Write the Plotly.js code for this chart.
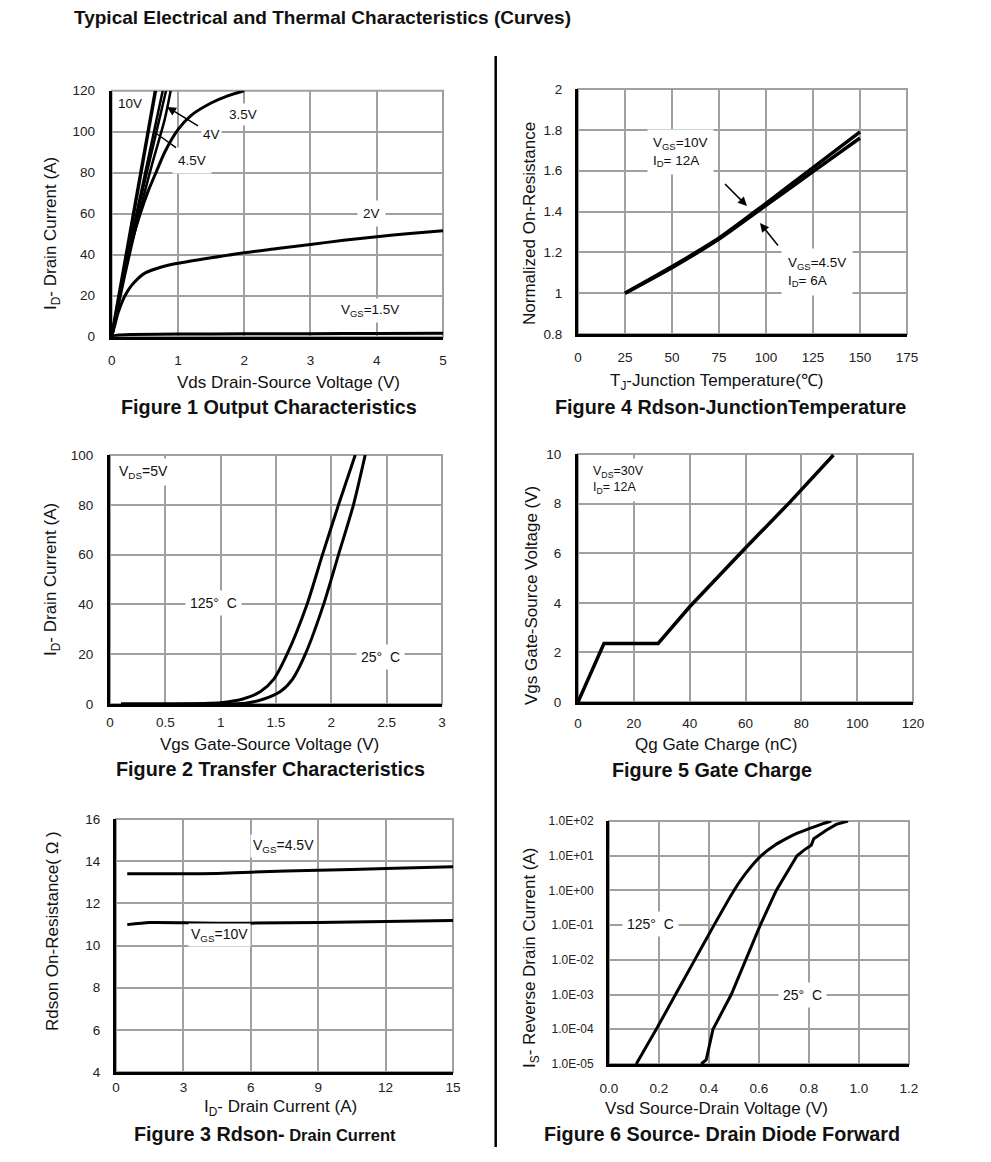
<!DOCTYPE html>
<html><head><meta charset="utf-8">
<script src="https://cdn.plot.ly/plotly-3.0.1.min.js"></script>
<style>html,body{margin:0;padding:0;background:#fff;} #chart{width:991px;height:1162px;}</style>
</head><body><div id="chart"></div>
<script>
// ---------- Figure 1: Output characteristics (Vds [V] -> Id [A]) ----------
const f1_vds_10V  = [0, 0.2, 0.4, 0.66];
const f1_id_10V   = [0, 36, 73, 120];
const f1_vds_5V   = [0, 0.2, 0.4, 0.6, 0.77];
const f1_id_5V    = [0, 33, 64, 94, 120];
const f1_vds_45V  = [0, 0.2, 0.4, 0.6, 0.82];
const f1_id_45V   = [0, 32, 62, 89, 120];
const f1_vds_4V   = [0, 0.2, 0.4, 0.6, 0.8, 0.89];
const f1_id_4V    = [0, 30, 58, 83, 106, 120];
const f1_vds_35V  = [0, 0.1, 0.2, 0.3, 0.43, 0.55, 0.68, 0.8, 1.0, 1.2, 1.5, 1.75, 2.0];
const f1_id_35V   = [0, 17, 33, 46, 60, 71, 81, 90, 101, 108, 114, 117.5, 120];
const f1_vds_2V   = [0, 0.05, 0.1, 0.2, 0.3, 0.4, 0.5, 0.75, 1, 1.5, 2, 2.5, 3, 3.5, 4, 4.5, 5];
const f1_id_2V    = [0, 6, 12, 20, 25, 28.5, 31, 34, 35.8, 38.5, 41, 43, 45, 47, 48.8, 50.3, 51.7];
const f1_vds_15V  = [0, 0.1, 0.3, 1, 2, 3, 4, 5];
const f1_id_15V   = [0, 0.8, 1.1, 1.3, 1.4, 1.5, 1.6, 1.7];

// ---------- Figure 4: Normalized Rdson vs junction temperature ----------
const f4_tj       = [25, 50, 75, 100, 125, 150];
const f4_r_10V    = [1.0, 1.13, 1.27, 1.44, 1.615, 1.79];
const f4_r_45V    = [1.0, 1.125, 1.265, 1.43, 1.595, 1.76];

// ---------- Figure 2: Transfer characteristics (Vgs [V] -> Id [A]) ----------
const f2_vgs_125  = [0.1, 0.5, 1.0, 1.2, 1.36, 1.48, 1.6, 1.78, 1.92, 2.065, 2.216];
const f2_id_125   = [0, 0, 0.5, 2, 5, 10, 20, 40, 60, 80, 100];
const f2_vgs_25   = [0.1, 0.5, 1.1, 1.25, 1.39, 1.54, 1.65, 1.765, 1.93, 2.065, 2.2, 2.306];
const f2_id_25    = [0, 0, 0, 0.5, 2, 5, 10, 20, 40, 60, 80, 100];

// ---------- Figure 5: Gate charge (Qg [nC] -> Vgs [V]) ----------
const f5_qg       = [0, 9.3, 28.7, 40, 59.2, 76, 91.5];
const f5_vgs      = [0, 2.36, 2.36, 3.84, 6.12, 8.07, 9.96];

// ---------- Figure 3: Rdson vs drain current (Id [A] -> Rdson) ----------
const f3_id       = [0.5, 1.5, 3, 4.5, 6, 9, 12, 15];
const f3_r_45V    = [13.4, 13.4, 13.4, 13.42, 13.48, 13.57, 13.65, 13.73];
const f3_r_10V    = [10.99, 11.09, 11.08, 11.05, 11.06, 11.09, 11.14, 11.18];

// ---------- Figure 6: Source-drain diode forward (Vsd [V] -> Is [A]) ----------
const f6_vsd_125  = [0.109, 0.189, 0.266, 0.343, 0.42, 0.5, 0.55, 0.609, 0.663, 0.709, 0.749, 0.803, 0.856, 0.889];
const f6_is_125   = [1e-5, 1e-4, 1e-3, 1e-2, 1e-1, 1, 3.3, 10, 20, 31, 43, 61, 84, 100];
const f6_vsd_25   = [0.369, 0.389, 0.416, 0.489, 0.547, 0.605, 0.669, 0.71, 0.752, 0.78, 0.809, 0.819, 0.843, 0.869, 0.909, 0.956];
const f6_is_25    = [1e-5, 1.33e-5, 1e-4, 1e-3, 1e-2, 1e-1, 1, 3.2, 10, 14.5, 20, 31, 41, 54, 80, 100];
const f6_tickvals = [1e-5, 1e-4, 1e-3, 1e-2, 1e-1, 1, 10, 100];
const f6_ticktext = ['1.0E-05', '1.0E-04', '1.0E-03', '1.0E-02', '1.0E-01', '1.0E+00', '1.0E+01', '1.0E+02'];

// ---------- layout helpers (pixel -> paper) ----------
const W = 991, H = 1162;
const FONT = 'Liberation Sans, Arial, Helvetica, sans-serif';
const GRID = '#a0a0a0';
const px = v => v / W;
const py = v => 1 - v / H;
const xd = (a, b) => [px(a), px(b)];
const yd = (top, bot) => [py(bot), py(top)];

function axis(domain, range, dtick, anchor, standoff, extra) {
  return Object.assign({
    domain: domain, range: range, dtick: dtick, tick0: 0, anchor: anchor,
    showgrid: true, gridcolor: GRID, gridwidth: 2,
    showline: true, linecolor: '#000', linewidth: 3,
    zeroline: false, ticks: '', fixedrange: true,
    tickfont: {family: FONT, size: 13.5, color: '#222'},
    ticklabelstandoff: standoff
  }, extra || {});
}

function line(x, y, xa, ya, shape, width, smoothing) {
  return {x: x, y: y, xaxis: xa, yaxis: ya, type: 'scatter', mode: 'lines',
          line: {color: '#000', width: width || 3, shape: shape || 'linear', smoothing: smoothing || 0.7},
          hoverinfo: 'skip', showlegend: false};
}

const data = [
  line(f1_vds_10V, f1_id_10V, 'x', 'y', 'linear', 3.5),
  line(f1_vds_5V, f1_id_5V, 'x', 'y', 'linear', 2.5),
  line(f1_vds_45V, f1_id_45V, 'x', 'y', 'linear', 2.5),
  line(f1_vds_4V, f1_id_4V, 'x', 'y', 'spline', 2.5),
  line(f1_vds_35V, f1_id_35V, 'x', 'y', 'spline', 3),
  line(f1_vds_2V, f1_id_2V, 'x', 'y', 'spline', 3),
  line(f1_vds_15V, f1_id_15V, 'x', 'y', 'spline', 3),
  line(f4_tj, f4_r_10V, 'x2', 'y2', 'spline', 3.5),
  line(f4_tj, f4_r_45V, 'x2', 'y2', 'spline', 3.5),
  line(f2_vgs_125, f2_id_125, 'x3', 'y3', 'spline', 3),
  line(f2_vgs_25, f2_id_25, 'x3', 'y3', 'spline', 3),
  line(f5_qg, f5_vgs, 'x4', 'y4', 'linear', 3.5),
  line(f3_id, f3_r_45V, 'x5', 'y5', 'spline', 3),
  line(f3_id, f3_r_10V, 'x5', 'y5', 'spline', 3),
  line(f6_vsd_125, f6_is_125, 'x6', 'y6', 'spline', 3, 0.5),
  line(f6_vsd_25, f6_is_25, 'x6', 'y6', 'linear', 3)
];

const layout = {
  width: W, height: H, margin: {l: 0, r: 0, t: 0, b: 0},
  paper_bgcolor: '#fff', plot_bgcolor: '#fff', showlegend: false,
  font: {family: FONT, color: '#111'},
  // Figure 1
  xaxis:  axis(xd(111.7, 443), [0, 5], 1, 'y', 9),
  yaxis:  axis(yd(90.7, 336.7), [0, 120], 20, 'x', 11),
  // Figure 4
  xaxis2: axis(xd(578, 907), [0, 175], 25, 'y2', 9),
  yaxis2: axis(yd(89, 334), [0.8, 2], 0.2, 'x2', 10),
  // Figure 2
  xaxis3: axis(xd(110, 442), [0, 3], 0.5, 'y3', 4),
  yaxis3: axis(yd(455, 704), [0, 100], 20, 'x3', 11),
  // Figure 5
  xaxis4: axis(xd(578, 913), [0, 120], 20, 'y4', 7),
  yaxis4: axis(yd(454, 702), [0, 10], 2, 'x4', 11),
  // Figure 3
  xaxis5: axis(xd(116, 453), [0, 15], 3, 'y5', 1),
  yaxis5: axis(yd(819, 1072), [4, 16], 2, 'x5', 10),
  // Figure 6
  xaxis6: axis(xd(609, 909), [0, 1.2], 0.2, 'y6', 10, {tickformat: '.1f'}),
  yaxis6: axis(yd(821, 1064), [-5, 2], null, 'x6', 10,
               {type: 'log', tickmode: 'array', tickvals: f6_tickvals, ticktext: f6_ticktext,
                tickfont: {family: FONT, size: 12, color: '#222'}}),
  shapes: [],
  annotations: []
};

// gray frame around each plot area + vertical divider
['', '2', '3', '4', '5', '6'].forEach(s => {
  layout.shapes.push({type: 'rect', xref: 'x' + s + ' domain', yref: 'y' + s + ' domain',
    x0: 0, x1: 1, y0: 0, y1: 1, line: {color: GRID, width: 2}, layer: 'below'});
});
layout.shapes.push({type: 'line', xref: 'paper', yref: 'paper',
  x0: px(495.7), x1: px(495.7), y0: py(56), y1: py(1147), line: {color: '#000', width: 2.5}});

const A = layout.annotations;
function txt(t, x, y, size, opts) {
  A.push(Object.assign({text: t, xref: 'paper', yref: 'paper', x: px(x), y: py(y),
    xanchor: 'center', yanchor: 'middle', showarrow: false,
    font: {family: FONT, size: size, color: '#111'}}, opts || {}));
}
function label(t, x, y, size, opts) {
  txt(t, x, y, size, Object.assign({bgcolor: '#fff', borderpad: 3}, opts || {}));
}
function arrow(tipx, tipy, tailx, taily, head) {
  A.push({text: ' ', xref: 'paper', yref: 'paper', x: px(tipx), y: py(tipy),
    ax: tailx - tipx, ay: taily - tipy, showarrow: true, arrowhead: head,
    arrowsize: 1.2, arrowwidth: 1.5, arrowcolor: '#000', standoff: 0,
    font: {family: FONT, size: 2, color: '#fff'}});
}

// main title
txt('<b>Typical Electrical and Thermal Characteristics (Curves)</b>', 72, 17, 19, {xanchor: 'left'});

// captions
const CF = 19.8;
txt('<b>Figure 1 Output Characteristics</b>', 269, 407, CF);
txt('<b>Figure 4 Rdson-JunctionTemperature</b>', 730, 407, CF);
txt('<b>Figure 2 Transfer Characteristics</b>', 270, 769, CF);
txt('<b>Figure 5 Gate Charge</b>', 712, 770, CF);
txt('<b>Figure 3 Rdson-<span style="font-size:16.5px"> Drain Current</span></b>', 265, 1134, CF);
txt('<b>Figure 6 Source- Drain Diode Forward</b>', 722, 1134, CF);

// axis titles
const AT = 17;
txt('Vds Drain-Source Voltage (V)', 288, 382, AT);
txt('I<sub>D</sub>- Drain Current (A)', 52, 234, AT, {textangle: -90});
txt('T<sub>J</sub>-Junction Temperature(℃)', 717, 382, AT);
txt('Normalized On-Resistance', 530, 224, AT, {textangle: -90});
txt('Vgs Gate-Source Voltage (V)', 269, 744, AT);
txt('I<sub>D</sub>- Drain Current (A)', 52, 580, AT, {textangle: -90});
txt('Qg Gate Charge (nC)', 716, 744, AT);
txt('Vgs Gate-Source Voltage (V)', 531, 596, AT, {textangle: -90});
txt('I<sub>D</sub>- Drain Current (A)', 280, 1108, AT);
txt('Rdson On-Resistance( Ω )', 52, 931, AT, {textangle: -90});
txt('Vsd Source-Drain Voltage (V)', 716, 1108, AT);
txt('I<sub>S</sub>- Reverse Drain Current (A)', 531, 958, AT, {textangle: -90});

// Figure 1 labels
txt('10V', 130, 104, 13.5);
label('3.5V', 243, 115, 13.5);
label('4V', 211, 135, 13.5, {borderpad: 1});
label('4.5V', 192, 161, 13.5, {borderpad: 5});
label('2V', 371, 214, 13.5, {borderpad: 5});
label('V<sub>GS</sub>=1.5V', 370, 310, 13.5, {borderpad: 3});
arrow(167, 107, 200, 127, 2);
arrow(157, 134, 178, 149, 0);

// Figure 4 labels
label('V<sub>GS</sub>=10V<br>I<sub>D</sub>= 12A', 647, 152, 13.5, {xanchor: 'left', align: 'left', borderpad: 5});
label('V<sub>GS</sub>=4.5V<br>I<sub>D</sub>= 6A', 781, 272, 13.5, {xanchor: 'left', align: 'left', borderpad: 6});
arrow(747, 206, 723, 182, 2);
arrow(760, 223, 780, 248, 2);

// Figure 2 labels
label('V<sub>DS</sub>=5V', 114, 472, 14, {xanchor: 'left', borderpad: 4});
label('125°  C', 213, 603, 14, {borderpad: 4});
label('25°  C', 380, 657, 14, {borderpad: 4});

// Figure 5 labels
label('V<sub>DS</sub>=30V<br>I<sub>D</sub>= 12A', 587, 480, 12.5, {xanchor: 'left', align: 'left', borderpad: 5});

// Figure 3 labels
label('V<sub>GS</sub>=4.5V', 250, 846, 14, {xanchor: 'left', borderpad: 2});
label('V<sub>GS</sub>=10V', 188, 935, 14, {xanchor: 'left', borderpad: 2});

// Figure 6 labels
label('125°  C', 650, 924, 14, {borderpad: 4});
label('25°  C', 802, 995, 14, {borderpad: 4});

Plotly.newPlot('chart', data, layout, {staticPlot: true, displayModeBar: false});
</script></body></html>
